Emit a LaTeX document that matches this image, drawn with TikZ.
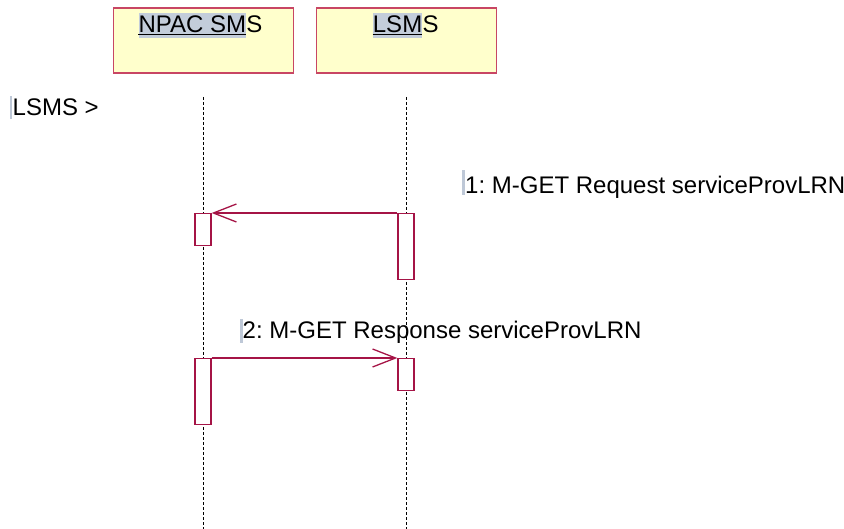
\documentclass[tikz,border=0pt]{standalone}
\usepackage{fontspec}
\setmainfont{Liberation Sans}
\usetikzlibrary{arrows.meta}
\definecolor{boxfill}{RGB}{255,255,204}
\definecolor{boxline}{RGB}{200,70,100}
\definecolor{actline}{RGB}{165,20,70}
\definecolor{hl}{RGB}{195,205,218}
\definecolor{caret}{RGB}{190,200,215}
\tikzset{
  lane/.style={draw=boxline, fill=boxfill, line width=1.3pt, anchor=north west, inner sep=0pt},
  lbl/.style={anchor=base west, inner sep=0pt, font=\fontsize{24}{28}\selectfont\frenchspacing},
  hltext/.style={lbl, fill=hl, text height=19.7pt, text depth=5.3pt},
  life/.style={draw=black, line width=0.8pt, dash pattern=on 3pt off 2pt},
  act/.style={draw=actline, fill=white, line width=1.3pt, minimum width=16pt, anchor=north, inner sep=0pt},
  msg/.style={draw=actline, line width=1.3pt, -{Straight Barb[length=23pt,width=18pt,line width=1.3pt]}},
  caretbar/.style={fill=caret, draw=none}
}
\begin{document}
\begin{tikzpicture}[x=1pt,y=-1pt]
\useasboundingbox (0,0) rectangle (844,529);
% lane boxes
\node[lane, minimum width=180pt, minimum height=65pt] (npac) at (112.5,7.5) {};
\node[lane, minimum width=180pt, minimum height=65pt] (lsms) at (315.5,7.5) {};
% lane titles
\node[hltext] (npact) at (138.3,33) {NPAC SM};
\node[lbl] (npacs) at (npact.base east) {S};
\draw[line width=1.3pt] ([yshift=-1.5pt]npact.base west) -- ([yshift=-1.5pt]npact.base east);
\node[hltext] (lsmst) at (372.7,33) {LSM};
\node[lbl] (lsmss) at (lsmst.base east) {S};
\draw[line width=1.3pt] ([yshift=-1.5pt]lsmst.base west) -- ([yshift=-1.5pt]lsmst.base east);
% lifelines
\coordinate (l1top) at (203,97);
\coordinate (l1bot) at (203,529);
\coordinate (l2top) at (406,97);
\coordinate (l2bot) at (406,529);
\draw[life] (l1top) -- (l1bot);
\draw[life] (l2top) -- (l2bot);
% side label
\fill[caret] (10,96) rectangle (12,119);
\node[lbl] (side) at (12.5,116) {LSMS >};
% activations
\node[act, minimum height=32pt] (a1) at (203,213) {};
\node[act, minimum height=66pt] (b1) at (406,213) {};
\node[act, minimum height=66pt] (a2) at (203,358) {};
\node[act, minimum height=32pt] (b2) at (406,358) {};
% messages
\fill[caret] (462,170) rectangle (464.7,195);
\node[lbl] (m1) at (465,193.3) {1: M-GET Request serviceProvLRN};
\draw[msg] (b1.north west) -- (a1.north east);
\fill[caret] (240,319) rectangle (242.7,343);
\node[lbl] (m2) at (242.5,339) {2: M-GET Response serviceProvLRN};
\draw[msg] (a2.north east) -- (b2.north west);
\end{tikzpicture}
\end{document}
